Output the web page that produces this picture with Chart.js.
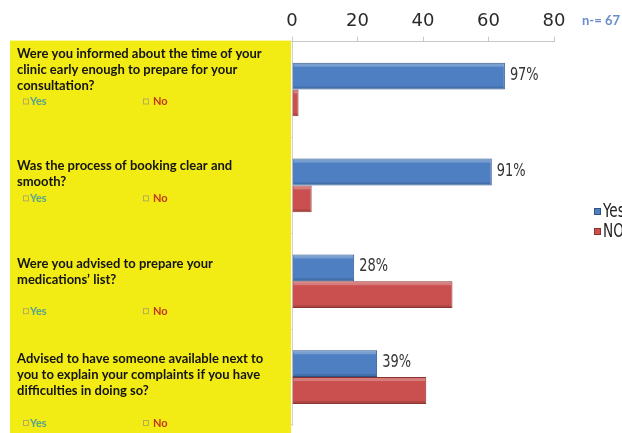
<!DOCTYPE html>
<html>
<head>
<meta charset="utf-8">
<script src="https://cdn.jsdelivr.net/npm/chart.js@4/dist/chart.umd.min.js"></script>
<style>
  html, body { margin: 0; padding: 0; background: #fff; overflow: hidden; }
  #wrap { width: 622px; height: 433px; }
</style>
</head>
<body>
<div id="wrap"><canvas id="surveyChart" width="622" height="433"></canvas></div>
<script>
// data
const categories = ["Q1", "Q2", "Q3", "Q4"]
const questions = [
    ["Were you informed about the time of your", "clinic early enough to prepare for your", "consultation?"],
    ["Was the process of booking clear and", "smooth?"],
    ["Were you advised to prepare your", "medications\u2019 list?"],
    ["Advised to have someone available next to", "you to explain your complaints if you have", "difficulties in doing so?"]
]
const yesValues = [65, 61, 19, 26]
const noValues = [2, 6, 49, 41]
const yesPercent = ["97%", "91%", "28%", "39%"]
const seriesNames = ["Yes", "NO"]
const sampleSize = "n-= 67"
const xTicks = [0, 20, 40, 60, 80]

const narrow = "'DejaVu Sans', sans-serif"
const boldText = "Lato, 'Open Sans', sans-serif"

// where each question's text sits relative to its category centre
const textLayout = [
    {first: -36, answers: 12},
    {first: -20, answers: 13},
    {first: -17, answers: 30},
    {first: -18, answers: 46}
]

// squeezed text, the original uses a very narrow face
function narrowText(ctx, text, x, y, squeeze) {
    ctx.save()
    ctx.translate(x, y)
    ctx.scale(squeeze, 1)
    ctx.fillText(text, 0, 0)
    ctx.restore()
}

const yellowPanel = {
    id: 'yellowPanel',
    beforeDatasetsDraw(chart) {
        const ctx = chart.ctx
        const area = chart.chartArea
        const yScale = chart.scales.y
        ctx.save()
        ctx.fillStyle = '#f3eb14'
        ctx.fillRect(10, area.top - 1, area.left - 11, chart.height - area.top + 1)

        ctx.textBaseline = 'middle'
        ctx.textAlign = 'left'
        questions.forEach((lines, i) => {
            const cy = yScale.getPixelForValue(i)
            const lay = textLayout[i]
            ctx.fillStyle = '#141414'
            ctx.font = "bold 13px " + boldText
            lines.forEach((line, j) => {
                ctx.fillText(line, 17, cy + lay.first + j * 16)
            })
            const ay = cy + lay.answers
            ctx.font = "bold 11px " + boldText
            ctx.lineWidth = 0.8
            ctx.strokeStyle = '#a3a070'
            ctx.strokeRect(23.5, ay - 2.5, 5, 5)
            ctx.fillStyle = '#57a38c'
            ctx.fillText(seriesNames[0], 30, ay)
            ctx.strokeRect(143.5, ay - 2.5, 5, 5)
            ctx.fillStyle = '#c23a1e'
            ctx.fillText("No", 153, ay)
        })
        ctx.restore()
    },
    afterDatasetsDraw(chart) {
        const ctx = chart.ctx
        ctx.save()

        // light top edge and dark bottom edge, gives the bevelled look
        chart.data.datasets.forEach((ds, d) => {
            chart.getDatasetMeta(d).data.forEach(bar => {
                const top = bar.y - bar.height / 2
                const w = bar.x - bar.base
                ctx.fillStyle = 'rgba(255,255,255,0.25)'
                ctx.fillRect(bar.base + 1, top + 1, w - 2, 3)
                ctx.fillStyle = 'rgba(0,0,0,0.12)'
                ctx.fillRect(bar.base + 1, top + bar.height - 3, w - 2, 2)
            })
        })

        const meta = chart.getDatasetMeta(0)
        ctx.fillStyle = '#333'
        ctx.font = "condensed 18px " + narrow
        ctx.textBaseline = 'middle'
        meta.data.forEach((bar, i) => {
            narrowText(ctx, yesPercent[i], bar.x + 5, bar.y - 1, 0.8)
        })

        // n label
        ctx.fillStyle = '#6a8ccc'
        ctx.font = "bold 13px " + boldText
        ctx.fillText(sampleSize, 582, 21)

        // legend, runs off the right edge like the original
        chart.data.datasets.forEach((ds, i) => {
            const ly = 212 + i * 20
            ctx.fillStyle = ds.borderColor
            ctx.fillRect(594, ly - 4, 7, 7)
            ctx.fillStyle = ds.backgroundColor
            ctx.fillRect(595, ly - 3, 5, 5)
            ctx.fillStyle = '#222'
            ctx.font = "condensed 19px " + narrow
            narrowText(ctx, ds.label, 603, ly, 0.8)
        })
        ctx.restore()
    }
}

const canvas = document.getElementById('surveyChart')
const ctx = canvas.getContext('2d')

new Chart(ctx, {
    type: 'bar',
    data: {
        labels: categories,
        datasets: [{
            label: seriesNames[0],
            data: yesValues,
            backgroundColor: '#4d7fc2',
            borderColor: '#2f5486',
            borderWidth: 1,
            barPercentage: 1.0,
            categoryPercentage: 0.56
        }, {
            label: seriesNames[1],
            data: noValues,
            backgroundColor: '#c9504e',
            borderColor: '#8a3230',
            borderWidth: 1,
            barPercentage: 1.0,
            categoryPercentage: 0.56
        }]
    },
    options: {
        indexAxis: 'y',
        responsive: false,
        animation: false,
        devicePixelRatio: 1,
        layout: {
            padding: {left: 288, right: 68, top: 7, bottom: 8}
        },
        plugins: {
            legend: {display: false},
            tooltip: {enabled: false}
        },
        scales: {
            x: {
                position: 'top',
                min: 0,
                max: 80,
                afterBuildTicks: (axis) => {
                    axis.ticks = xTicks.map(v => ({value: v}))
                },
                ticks: {
                    color: '#2a2a2a',
                    font: {size: 18, family: narrow, style: 'condensed'},
                    padding: 4
                },
                grid: {drawOnChartArea: false, tickLength: 5, color: '#c8c8c8'},
                border: {color: '#c8c8c8'}
            },
            y: {
                ticks: {display: false},
                grid: {drawOnChartArea: false, tickLength: 4, color: '#d0d0d0'},
                border: {color: '#d0d0d0'}
            }
        }
    },
    plugins: [yellowPanel]
})
</script>
</body>
</html>
